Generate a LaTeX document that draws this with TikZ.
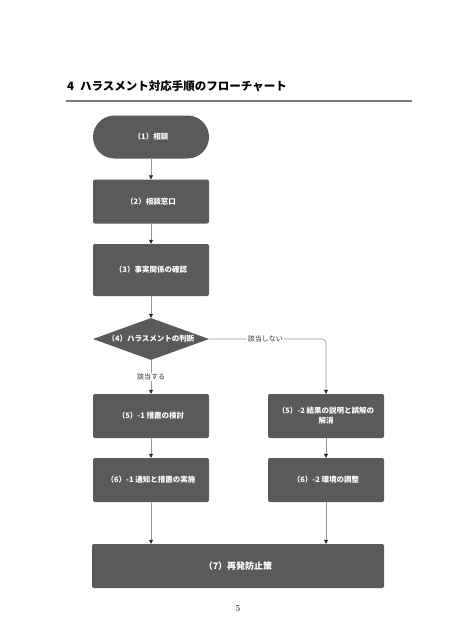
\documentclass[tikz,border=0pt]{standalone}
\usepackage{fontspec}
\newfontfamily\cjk{Noto Sans CJK JP}
\usetikzlibrary{shapes.geometric,arrows.meta}
\definecolor{boxfill}{RGB}{90,90,90}
\definecolor{linegray}{RGB}{150,150,150}
\definecolor{rulegray}{RGB}{120,120,120}
\tikzset{
  boxtext/.style={font=\cjk\bfseries\fontsize{7.5}{10}\selectfont, text=white, align=center},
  procbox/.style={boxtext, draw=none, fill=boxfill, rounded corners=2pt, minimum width=116pt, minimum height=44pt, inner sep=0pt},
  termbox/.style={boxtext, draw=none, fill=boxfill, rounded corners=21.5pt, minimum width=116pt, minimum height=43pt, inner sep=0pt},
  decbox/.style={boxtext, draw=none, fill=boxfill, diamond, aspect=2.76, minimum width=116pt, minimum height=42pt, inner sep=0pt},
  conn/.style={draw=linegray, line width=0.6pt, -{Triangle[length=4pt,width=4pt,fill=black!85,color=black!85]}},
  lbl/.style={font=\cjk\fontsize{7}{8}\selectfont, text=black!80, fill=white, inner sep=1pt},
}
\begin{document}
\begin{tikzpicture}[x=1pt,y=-1pt]
\useasboundingbox (0,0) rectangle (474,642);
\fill[white] (0,0) rectangle (474,642);
\node[anchor=west, font=\cjk\bfseries\fontsize{11.5}{13}\selectfont, inner sep=0pt] (title) at (67,86) {4\hspace{6pt}ハラスメント対応手順のフローチャート};
\coordinate (rl) at (66,101);
\coordinate (rr) at (412,101);
\draw[rulegray, line width=1.6pt] (rl) -- (rr);

\node[termbox] (n1) at (151,137) {（1）相談};
\node[procbox] (n2) at (151,201.5) {（2）相談窓口};
\node[procbox, minimum height=52pt] (n3) at (151,270) {（3）事実関係の確認};
\node[decbox] (n4) at (151,339) {（4）ハラスメントの判断};
\node[procbox] (n51) at (151,416) {（5）-1 措置の検討};
\node[procbox] (n52) at (326,416) {（5）-2 結果の説明と誤解の\\解消};
\node[procbox] (n61) at (151,480) {（6）-1 通知と措置の実施};
\node[procbox] (n62) at (326,480) {（6）-2 環境の調整};
\node[procbox, minimum width=292pt] (n7) at (238,566) {\fontsize{9}{11}\selectfont（7）再発防止策};

\draw[conn] (n1) -- (n2);
\draw[conn] (n2) -- (n3);
\draw[conn] (n3) -- (n4);
\draw[conn] (n4) -- node[lbl] {該当する} (n51);
\draw[conn, rounded corners=4pt] (n4.east) -| node[lbl, pos=0.24] {該当しない} (n52.north);
\draw[conn] (n51) -- (n61);
\draw[conn] (n52) -- (n62);
\draw[conn] (n61) -- (n61 |- n7.north);
\draw[conn] (n62) -- (n62 |- n7.north);

\node[font=\fontsize{9}{11}\selectfont] (pg) at (238,609) {5};
\end{tikzpicture}
\end{document}
